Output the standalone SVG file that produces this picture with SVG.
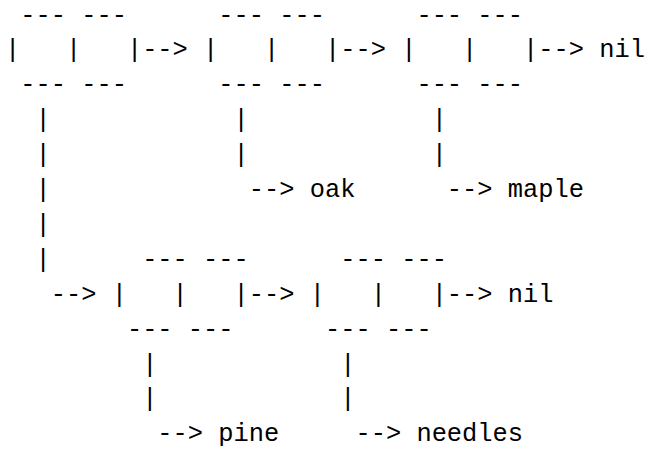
<svg xmlns="http://www.w3.org/2000/svg" width="646" height="449" viewBox="0 0 646 449">
<style>
text{font-family:"Liberation Mono","Courier New",monospace;font-size:25.4px;fill:#000;white-space:pre}
</style>
<rect width="646" height="449" fill="#fff"/>
<g id="nodes">
<g id="row1">
<text x="5" y="22.5" xml:space="preserve"> --- ---      --- ---      --- ---</text>
<text x="5" y="57.4" xml:space="preserve">|   |   |--&gt; |   |   |--&gt; |   |   |--&gt; nil</text>
<text x="5" y="92.3" xml:space="preserve"> --- ---      --- ---      --- ---</text>
</g>
<g id="leaves1">
<text x="5" y="127.2" xml:space="preserve">  |            |            |</text>
<text x="5" y="162.1" xml:space="preserve">  |            |            |</text>
<text x="5" y="197" xml:space="preserve">  |             --&gt; oak      --&gt; maple</text>
<text x="5" y="231.9" xml:space="preserve">  |</text>
</g>
<g id="row2">
<text x="5" y="266.8" xml:space="preserve">  |      --- ---      --- ---</text>
<text x="5" y="301.7" xml:space="preserve">   --&gt; |   |   |--&gt; |   |   |--&gt; nil</text>
<text x="5" y="336.6" xml:space="preserve">        --- ---      --- ---</text>
</g>
<g id="leaves2">
<text x="5" y="371.5" xml:space="preserve">         |            |</text>
<text x="5" y="406.4" xml:space="preserve">         |            |</text>
<text x="5" y="441" xml:space="preserve">          --&gt; pine     --&gt; needles</text>
</g>
</g>
<g id="connectors"></g>
</svg>
